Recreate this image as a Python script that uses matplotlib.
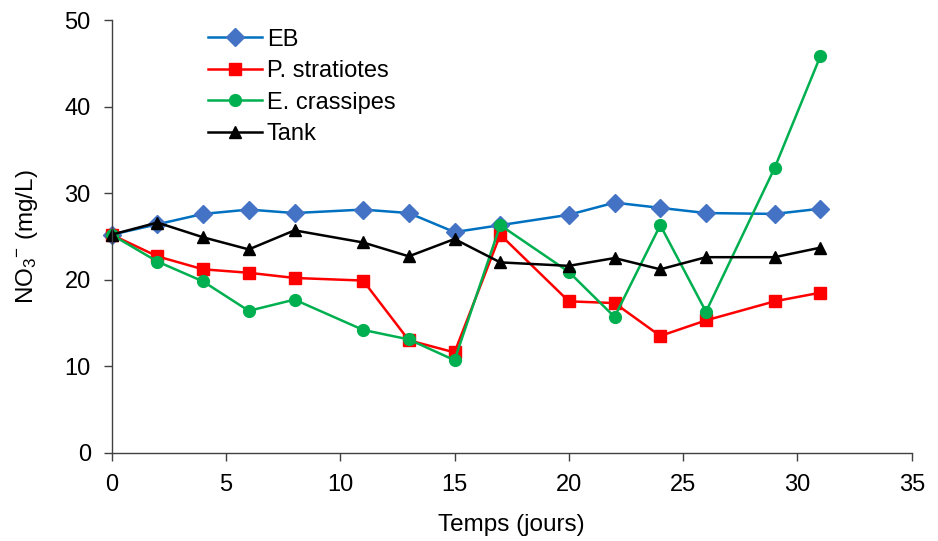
import matplotlib
matplotlib.use("Agg")
import matplotlib.pyplot as plt

plt.rcParams.update(
    {
        "font.family": ["Liberation Sans", "DejaVu Sans"],
        "mathtext.fontset": "custom",
        "mathtext.rm": "Liberation Sans",
        "mathtext.it": "Liberation Sans",
        "font.size": 17,
    }
)

days = [0, 2, 4, 6, 8, 11, 13, 15, 17, 20, 22, 24, 26, 29, 31]
eb = [25.2, 26.4, 27.6, 28.1, 27.7, 28.1, 27.7, 25.5, 26.3, 27.5, 28.9, 28.3, 27.7, 27.6, 28.2]
p_stratiotes = [25.2, 22.7, 21.2, 20.8, 20.2, 19.9, 13.0, 11.6, 25.2, 17.5, 17.3, 13.5, 15.3, 17.5, 18.5]
e_crassipes = [25.2, 22.1, 19.8, 16.4, 17.7, 14.2, 13.1, 10.7, 26.3, 20.9, 15.7, 26.3, 16.3, 32.9, 45.8]
tank = [25.2, 26.6, 24.9, 23.5, 25.7, 24.3, 22.7, 24.7, 22.0, 21.6, 22.5, 21.2, 22.6, 22.6, 23.7]

SERIES = [
    ("EB", eb, "#0070C0", "#4472C4", "D", 9.5),
    ("P. stratiotes", p_stratiotes, "#FF0000", "#FF0000", "s", 8.5),
    ("E. crassipes", e_crassipes, "#00B050", "#00B050", "o", 8.5),
    ("Tank", tank, "#000000", "#000000", "^", 8.5),
]

fig = plt.figure(figsize=(9.38, 5.41), dpi=100)
ax = fig.add_axes([0.119, 0.163, 0.853, 0.80])

for label, values, line_color, marker_color, marker, ms in SERIES:
    ax.plot(
        days,
        values,
        color=line_color,
        linewidth=1.8,
        marker=marker,
        markersize=ms,
        markerfacecolor=marker_color,
        markeredgecolor=marker_color,
        label=label,
        clip_on=False,
    )

ax.set_xlim(0, 35)
ax.set_ylim(0, 50)
ax.set_xticks(range(0, 36, 5))
ax.set_yticks(range(0, 51, 10))
ax.spines["top"].set_visible(False)
ax.spines["right"].set_visible(False)
for side in ("left", "bottom"):
    ax.spines[side].set_color("#404040")
    ax.spines[side].set_linewidth(1.0)
ax.tick_params(direction="out", length=6, width=1.0, color="#404040")
ax.tick_params(axis="x", pad=9)
ax.tick_params(axis="y", pad=9)

ax.set_xlabel("Temps (jours)", fontsize=17.5, labelpad=13)
ax.set_ylabel(r"NO$_3$$^{-}$ (mg/L)", fontsize=17.5, labelpad=18)

ax.legend(
    loc="upper left",
    bbox_to_anchor=(0.12, 0.98),
    frameon=False,
    fontsize=17,
    handlelength=2.3,
    handletextpad=0.2,
    labelspacing=0.4,
    borderaxespad=0,
    borderpad=0,
)

fig.savefig("out.png", dpi=100)
